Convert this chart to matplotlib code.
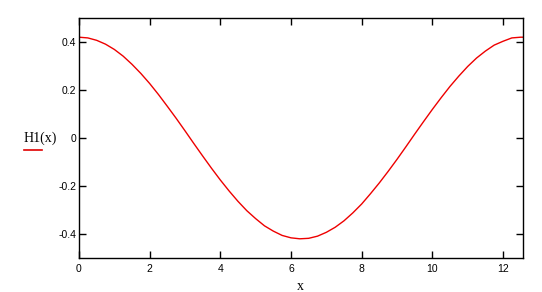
import numpy as np
import matplotlib
matplotlib.use('Agg')
import matplotlib.pyplot as plt
from matplotlib.lines import Line2D

plt.rcParams['axes.unicode_minus'] = False

# valores
x_vals = [0, 0.25, 0.5, 0.75, 1, 1.25, 1.5, 1.75, 2, 2.25, 2.5, 2.75, 3,
          3.25, 3.5, 3.75, 4, 4.25, 4.5, 4.75, 5, 5.25, 5.5, 5.75, 6,
          6.25, 6.5, 6.75, 7, 7.25, 7.5, 7.75, 8, 8.25, 8.5, 8.75, 9,
          9.25, 9.5, 9.75, 10, 10.25, 10.5, 10.75, 11, 11.25, 11.5, 11.75,
          12, 12.25, 12.5, 12.566]
h1_vals = [0.420, 0.417, 0.407, 0.391, 0.369, 0.341, 0.307, 0.269, 0.227,
           0.181, 0.132, 0.082, 0.030, -0.023, -0.075, -0.126, -0.175,
           -0.221, -0.264, -0.303, -0.336, -0.366, -0.388, -0.406, -0.416,
           -0.420, -0.418, -0.409, -0.393, -0.372, -0.345, -0.312, -0.275,
           -0.232, -0.187, -0.139, -0.089, -0.037, 0.016, 0.068, 0.119,
           0.168, 0.215, 0.258, 0.298, 0.333, 0.362, 0.387, 0.403, 0.417,
           0.420, 0.420]

x_ticks = [0, 2, 4, 6, 8, 10, 12]
y_ticks = [0.4, 0.2, 0, -0.2, -0.4]
y_tick_labels = ['0.4', '0.2', '0', '-0.2', '-0.4']

fig = plt.figure(figsize=(5.42, 2.92), dpi=100)
ax = fig.add_axes([79 / 542, 34 / 292, 444 / 542, 240 / 292])

ax.plot(x_vals, h1_vals, color='#ee0000', linewidth=1.0)

ax.set_xlim(0, 12.566)
ax.set_ylim(-0.5, 0.5)
ax.set_xticks(x_ticks)
ax.set_xticklabels([str(t) for t in x_ticks])
ax.set_yticks(y_ticks)
ax.set_yticklabels(y_tick_labels)

ax.tick_params(direction='in', length=5, width=1, top=True, right=True,
               labelsize=7.5, colors='black')
ax.tick_params(axis='y', pad=2)
ax.tick_params(axis='x', pad=4)
for s in ax.spines.values():
    s.set_linewidth(1.0)
for lbl in ax.get_xticklabels() + ax.get_yticklabels():
    lbl.set_family('Liberation Sans')

fig.text(300 / 542, 1 - 286 / 292, 'x', family='Liberation Serif', fontsize=10,
         ha='center', va='center')
fig.text(24 / 542, 1 - 138 / 292, 'H1(x)', family='Liberation Serif', fontsize=10,
         ha='left', va='center')
fig.add_artist(Line2D([24 / 542, 42 / 542], [1 - 149.5 / 292, 1 - 149.5 / 292],
                      color='#e00000', linewidth=1.2))

fig.savefig('out.png', dpi=100)
